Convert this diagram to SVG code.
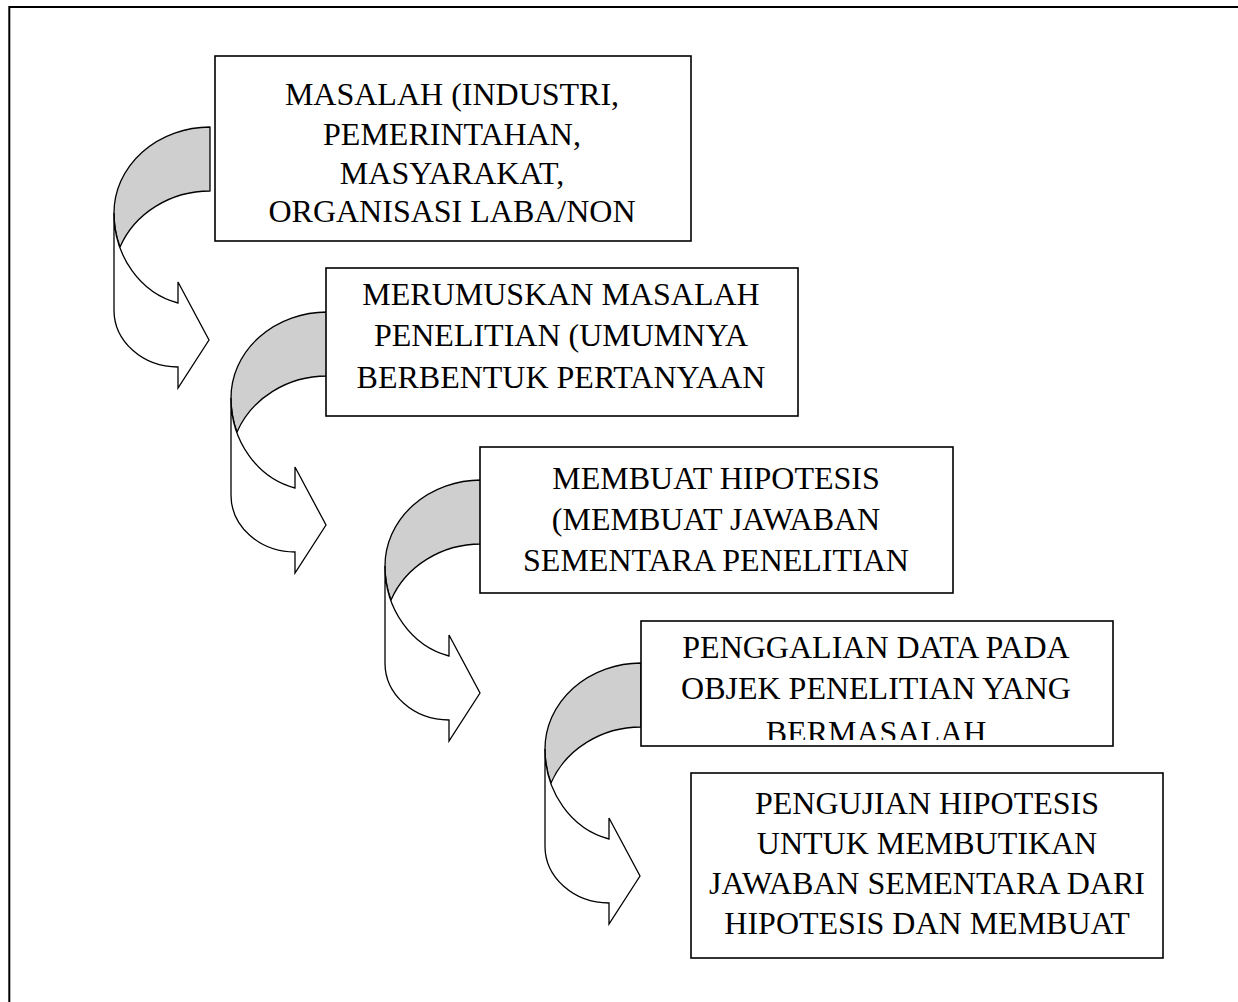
<svg xmlns="http://www.w3.org/2000/svg" xmlns:xlink="http://www.w3.org/1999/xlink" width="1238" height="1002" viewBox="0 0 1238 1002">
  <style>
    .frame { fill: none; stroke: #000; stroke-width: 2; }
    .box { fill: #fff; stroke: #000; stroke-width: 1.6; }
    .label { font-family: "Liberation Serif", "Times New Roman", serif; font-size: 32px; fill: #000; text-anchor: middle; }
    .arrow-back { fill: #cfcfcf; stroke: #000; stroke-width: 1.3; stroke-linejoin: round; }
    .arrow-front { fill: #fff; stroke: #000; stroke-width: 1.3; stroke-linejoin: miter; }
  </style>
  <defs>
    <!-- curved right arrow: shaded back band plus white front band with head -->
    <g id="curved-arrow">
      <path class="arrow-back" d="M 210,127 A 96 86 0 0 0 114,213 A 83 92 0 0 0 120,247 A 97 89 0 0 1 210,191 Z"/>
      <path class="arrow-front" d="M 114,213 L 114,310 A 64 57 0 0 0 178,367 L 178,388 L 209,340 L 178,282 L 178,303 A 83 92 0 0 1 114,213 Z"/>
    </g>
    <clipPath id="clip-box4">
      <rect x="641" y="621" width="472" height="119"/>
    </clipPath>
  </defs>

  <rect width="1238" height="1002" fill="#fff"/>
  <path class="frame" d="M 9.3,1010 V 7 H 1250"/>

  <g id="connectors">
    <use xlink:href="#curved-arrow" href="#curved-arrow"/>
    <use xlink:href="#curved-arrow" href="#curved-arrow" transform="translate(117,185)"/>
    <use xlink:href="#curved-arrow" href="#curved-arrow" transform="translate(271,353)"/>
    <use xlink:href="#curved-arrow" href="#curved-arrow" transform="translate(431,536)"/>
  </g>

  <g id="node-masalah">
    <rect class="box" x="215" y="56" width="476" height="185"/>
    <text class="label" x="452" y="105">MASALAH (INDUSTRI,</text>
    <text class="label" x="452" y="144.5">PEMERINTAHAN,</text>
    <text class="label" x="452" y="183.5">MASYARAKAT,</text>
    <text class="label" x="452" y="222">ORGANISASI LABA/NON</text>
  </g>

  <g id="node-merumuskan">
    <rect class="box" x="326" y="268" width="472" height="148"/>
    <text class="label" x="561" y="305">MERUMUSKAN MASALAH</text>
    <text class="label" x="561" y="346">PENELITIAN (UMUMNYA</text>
    <text class="label" x="561" y="387.5">BERBENTUK PERTANYAAN</text>
  </g>

  <g id="node-hipotesis">
    <rect class="box" x="480" y="447" width="473" height="146"/>
    <text class="label" x="716" y="489">MEMBUAT HIPOTESIS</text>
    <text class="label" x="716" y="530">(MEMBUAT JAWABAN</text>
    <text class="label" x="716" y="570.5">SEMENTARA PENELITIAN</text>
  </g>

  <g id="node-penggalian">
    <rect class="box" x="641" y="621" width="472" height="125"/>
    <g clip-path="url(#clip-box4)">
      <text class="label" x="876" y="657.5">PENGGALIAN DATA PADA</text>
      <text class="label" x="876" y="698.5">OBJEK PENELITIAN YANG</text>
      <text class="label" x="876" y="743">BERMASALAH</text>
    </g>
  </g>

  <g id="node-pengujian">
    <rect class="box" x="691" y="773" width="472" height="185"/>
    <text class="label" x="927" y="813.5">PENGUJIAN HIPOTESIS</text>
    <text class="label" x="927" y="853.5">UNTUK MEMBUTIKAN</text>
    <text class="label" x="927" y="893.5">JAWABAN SEMENTARA DARI</text>
    <text class="label" x="927" y="933.5">HIPOTESIS DAN MEMBUAT</text>
  </g>
</svg>
